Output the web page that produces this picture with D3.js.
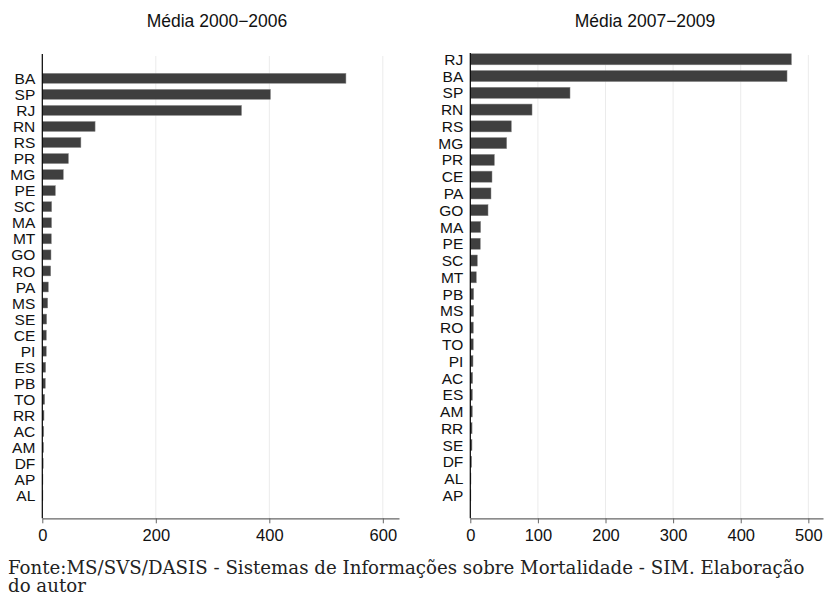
<!DOCTYPE html>
<html>
<head>
<meta charset="utf-8">
<script src="https://cdn.jsdelivr.net/npm/d3@7"></script>
<style>
  html, body { margin: 0; padding: 0; background: #fff; }
  svg { display: block; }
  .title { font-family: "Liberation Sans", Arial, sans-serif; font-size: 17.5px; fill: #111; }
  .cat { font-family: "Liberation Sans", Arial, sans-serif; font-size: 15.5px; fill: #111; }
  .tick text { font-family: "Liberation Sans", Arial, sans-serif; font-size: 16.5px; fill: #111; }
  .note { font-family: "DejaVu Serif", serif; fill: #222; }
</style>
</head>
<body>
<div id="chart"></div>
<script>
// Média 2000-2006
const statesA = ["BA", "SP", "RJ", "RN", "RS", "PR", "MG", "PE", "SC", "MA", "MT", "GO", "RO", "PA",
  "MS", "SE", "CE", "PI", "ES", "PB", "TO", "RR", "AC", "AM", "DF", "AP", "AL"];
const valuesA = [535, 402, 351, 93, 68, 46, 37, 23, 16.5, 16.3, 15.9, 15.3, 14.8, 10.6,
  9.5, 7.7, 7.1, 7, 5.9, 5.3, 4.2, 3, 2.6, 2.2, 1.6, 1.1, 0.6];
const ticksA = [0, 200, 400, 600];

// Média 2007-2009
const statesB = ["RJ", "BA", "SP", "RN", "RS", "MG", "PR", "CE", "PA", "GO", "MA", "PE", "SC", "MT",
  "PB", "MS", "RO", "TO", "PI", "AC", "ES", "AM", "RR", "SE", "DF", "AL", "AP"];
const valuesB = [475, 468.5, 147.5, 91.3, 60.7, 53.8, 35.6, 32.1, 30.6, 26.2, 15.3, 14.8, 10.4, 8.9,
  5, 5, 4.5, 4.4, 4, 3.5, 3.1, 3, 2.6, 2.5, 2, 1, 0.5];
const ticksB = [0, 100, 200, 300, 400, 500];

const titles = ["Média 2000\u22122006", "Média 2007\u22122009"];
const noteLines = [
  "Fonte:MS/SVS/DASIS - Sistemas de Informações sobre Mortalidade - SIM. Elaboração",
  "do autor",
];

const width = 825;
const height = 599;
const axisY = 518.3;

const svg = d3.select("#chart").append("svg")
  .attr("width", width)
  .attr("height", height);

const panels = [
  {
    states: statesA, values: valuesA, ticks: ticksA, title: titles[0], titleX: 217,
    xDomain: [0, 628.5], xRange: [42.3, 399],
    yRange: [70.3, 503.65], padInner: 0.38, top: 54,
  },
  {
    states: statesB, values: valuesB, ticks: ticksB, title: titles[1], titleX: 645,
    xDomain: [0, 521.7], xRange: [470.3, 823],
    yRange: [50.9, 503.7], padInner: 0.34, top: 53,
  },
];

panels.forEach((p) => {
  const x = d3.scaleLinear().domain(p.xDomain).range(p.xRange);
  const y = d3.scaleBand()
    .domain(p.states)
    .range(p.yRange)
    .paddingInner(p.padInner)
    .paddingOuter(p.padInner / 2);

  const g = svg.append("g");

  // grid
  g.append("g")
    .selectAll("line")
    .data(p.ticks.filter((t) => t > 0))
    .join("line")
    .attr("x1", (t) => x(t))
    .attr("x2", (t) => x(t))
    .attr("y1", p.top + 2)
    .attr("y2", axisY)
    .attr("stroke", "#ebebeb")
    .attr("stroke-width", 1);

  // bars
  g.append("g")
    .selectAll("rect")
    .data(p.states)
    .join("rect")
    .attr("x", x(0))
    .attr("y", (s) => y(s))
    .attr("width", (s, i) => Math.max(0.6, x(p.values[i]) - x(0)))
    .attr("height", y.bandwidth())
    .attr("fill", "#3f3f3f")
    .attr("stroke", "#8a8a8a")
    .attr("stroke-width", 0.5);

  // x axis
  const axis = g.append("g")
    .attr("transform", `translate(0,${axisY})`)
    .call(d3.axisBottom(x).tickValues(p.ticks).tickSize(5).tickPadding(6).tickSizeOuter(0));
  axis.select(".domain").attr("stroke", "#666").attr("stroke-width", 1.2);
  axis.selectAll(".tick line").attr("stroke", "#666");

  // y axis line
  g.append("line")
    .attr("x1", x(0))
    .attr("x2", x(0))
    .attr("y1", p.top)
    .attr("y2", axisY)
    .attr("stroke", "#000")
    .attr("stroke-width", 1.2);

  // category labels
  g.append("g")
    .selectAll("text")
    .data(p.states)
    .join("text")
    .attr("class", "cat")
    .attr("x", x(0) - 7)
    .attr("y", (s) => y(s) + y.bandwidth() / 2)
    .attr("dy", "0.36em")
    .attr("text-anchor", "end")
    .text((s) => s);

  g.append("text")
    .attr("class", "title")
    .attr("x", p.titleX)
    .attr("y", 27)
    .attr("text-anchor", "middle")
    .text(p.title);
});

// source note, sized to span the same width as the original
const note = svg.append("g");
const first = note.append("text")
  .attr("class", "note")
  .attr("x", 8)
  .attr("y", 574)
  .style("font-size", "16px")
  .text(noteLines[0]);
const fit = 16 * 797 / first.node().getComputedTextLength();
first.style("font-size", `${fit}px`);
note.append("text")
  .attr("class", "note")
  .attr("x", 8)
  .attr("y", 592)
  .style("font-size", `${fit}px`)
  .text(noteLines[1]);
</script>
</body>
</html>
